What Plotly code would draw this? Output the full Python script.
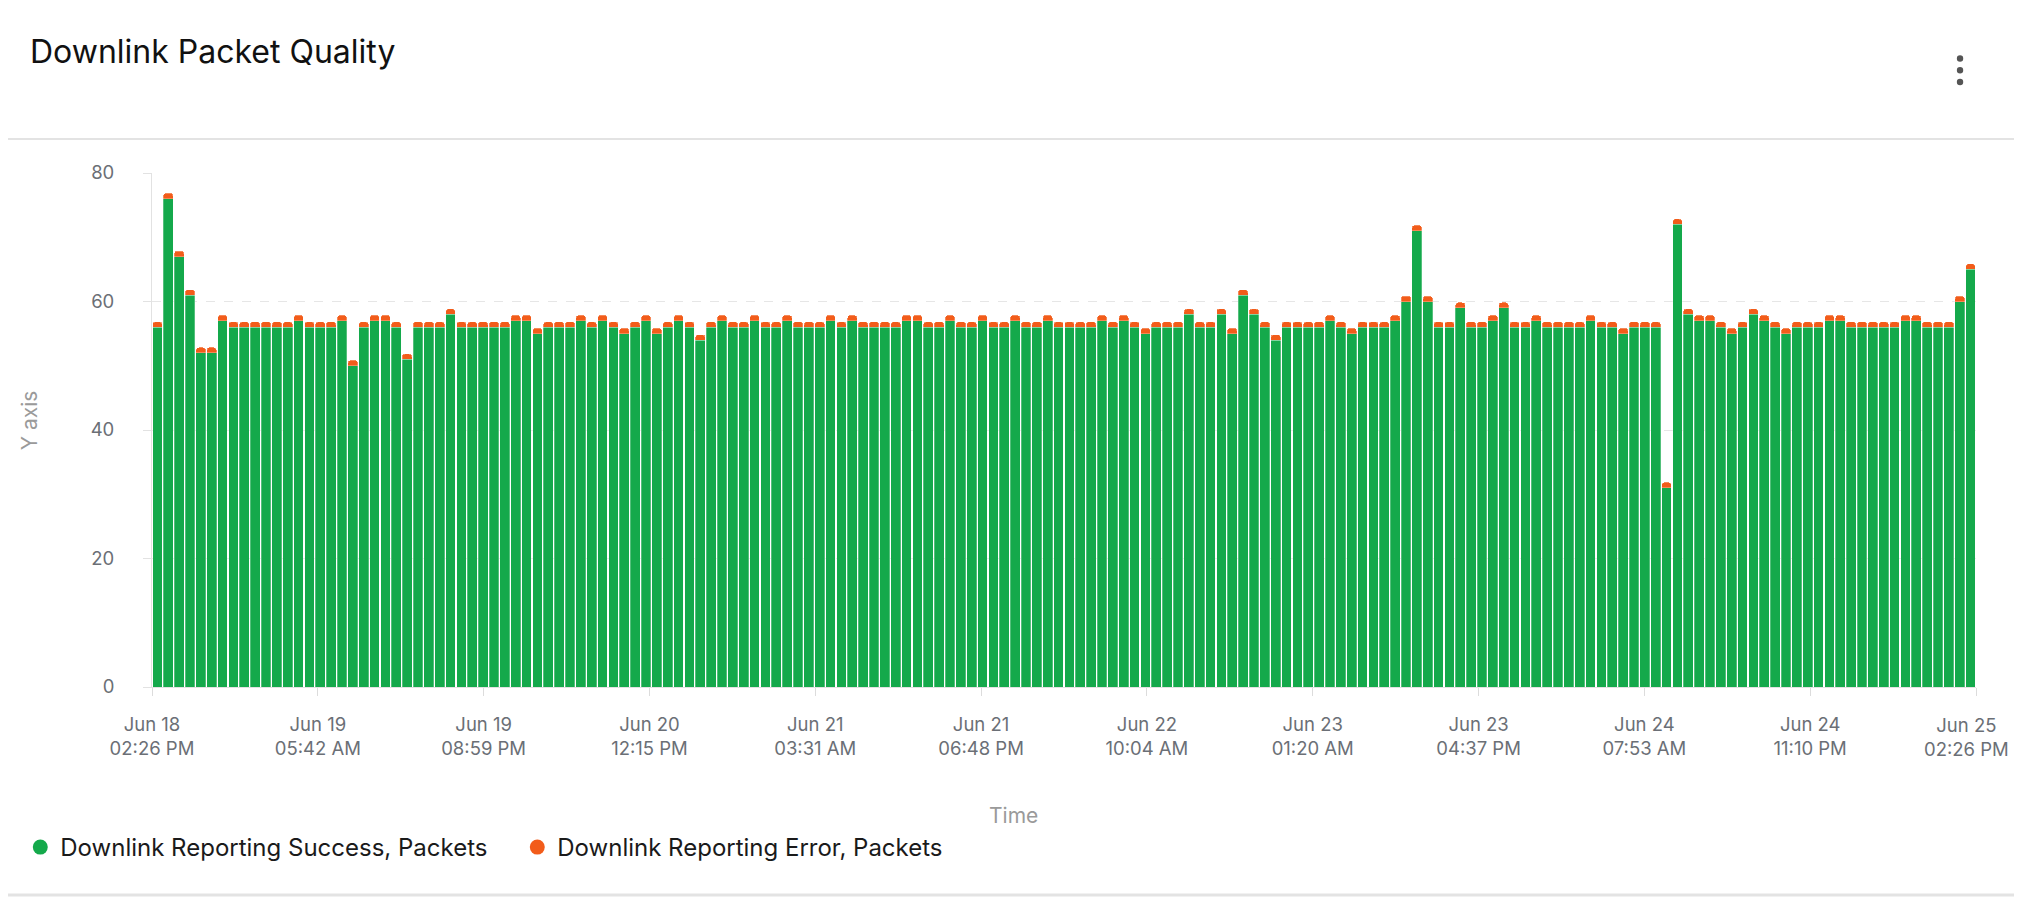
import pandas as pd
import plotly.graph_objects as go

# hourly buckets, Jun 18 14:26 -> Jun 25 14:26
START = "2024-06-18 14:26:25"
END = "2024-06-25 14:26:25"

success_packets = [
    56, 76, 67, 61, 52, 52, 57, 56, 56, 56, 56, 56, 56, 57, 56, 56, 56, 57, 50, 56, 57, 57, 56, 51,
    56, 56, 56, 58, 56, 56, 56, 56, 56, 57, 57, 55, 56, 56, 56, 57, 56, 57, 56, 55, 56, 57, 55, 56,
    57, 56, 54, 56, 57, 56, 56, 57, 56, 56, 57, 56, 56, 56, 57, 56, 57, 56, 56, 56, 56, 57, 57, 56,
    56, 57, 56, 56, 57, 56, 56, 57, 56, 56, 57, 56, 56, 56, 56, 57, 56, 57, 56, 55, 56, 56, 56, 58,
    56, 56, 58, 55, 61, 58, 56, 54, 56, 56, 56, 56, 57, 56, 55, 56, 56, 56, 57, 60, 71, 60, 56, 56,
    59, 56, 56, 57, 59, 56, 56, 57, 56, 56, 56, 56, 57, 56, 56, 55, 56, 56, 56, 31, 72, 58, 57, 57,
    56, 55, 56, 58, 57, 56, 55, 56, 56, 56, 57, 57, 56, 56, 56, 56, 56, 57, 57, 56, 56, 56, 60, 65,
]
error_packets = [
    0.85, 0.85, 0.85, 0.85, 0.85, 0.85, 0.85, 0.85, 0.85, 0.85, 0.85, 0.85, 0.85, 0.85, 0.85, 0.85, 0.85, 0.85, 0.85, 0.85, 0.85, 0.85, 0.85, 0.85,
    0.85, 0.85, 0.85, 0.85, 0.85, 0.85, 0.85, 0.85, 0.85, 0.85, 0.85, 0.85, 0.85, 0.85, 0.85, 0.85, 0.85, 0.85, 0.85, 0.85, 0.85, 0.85, 0.85, 0.85,
    0.85, 0.85, 0.85, 0.85, 0.85, 0.85, 0.85, 0.85, 0.85, 0.85, 0.85, 0.85, 0.85, 0.85, 0.85, 0.85, 0.85, 0.85, 0.85, 0.85, 0.85, 0.85, 0.85, 0.85,
    0.85, 0.85, 0.85, 0.85, 0.85, 0.85, 0.85, 0.85, 0.85, 0.85, 0.85, 0.85, 0.85, 0.85, 0.85, 0.85, 0.85, 0.85, 0.85, 0.85, 0.85, 0.85, 0.85, 0.85,
    0.85, 0.85, 0.85, 0.85, 0.85, 0.85, 0.85, 0.85, 0.85, 0.85, 0.85, 0.85, 0.85, 0.85, 0.85, 0.85, 0.85, 0.85, 0.85, 0.85, 0.85, 0.85, 0.85, 0.85,
    0.85, 0.85, 0.85, 0.85, 0.85, 0.85, 0.85, 0.85, 0.85, 0.85, 0.85, 0.85, 0.85, 0.85, 0.85, 0.85, 0.85, 0.85, 0.85, 0.85, 0.85, 0.85, 0.85, 0.85,
    0.85, 0.85, 0.85, 0.85, 0.85, 0.85, 0.85, 0.85, 0.85, 0.85, 0.85, 0.85, 0.85, 0.85, 0.85, 0.85, 0.85, 0.85, 0.85, 0.85, 0.85, 0.85, 0.85, 0.85,
]
tick_labels = [
    "Jun 18<br>02:26 PM", "Jun 19<br>05:42 AM", "Jun 19<br>08:59 PM", "Jun 20<br>12:15 PM",
    "Jun 21<br>03:31 AM", "Jun 21<br>06:48 PM", "Jun 22<br>10:04 AM", "Jun 23<br>01:20 AM",
    "Jun 23<br>04:37 PM", "Jun 24<br>07:53 AM", "Jun 24<br>11:10 PM", "Jun 25<br>02:26 PM",
]

GREEN = "#14a94b"
ORANGE = "#f25c1a"
FONT = "Inter"
TICK_GREY = "#6b6f76"

# page has an 8px body margin, so the figure is laid out in page coords minus 8
OFF = 8
W, H = 2022 - 2 * OFF, 898 - OFF
ML, MT = 148 - OFF, 173 - OFF
MR = W - (1976 - OFF)
MB = H - (687 - OFF)
PW, PH = W - ML - MR, H - MT - MB


def px(x):
    return (x - OFF - ML) / PW


def py(y):
    return (H - MB - (y - OFF)) / PH


start = pd.Timestamp(START)
end = pd.Timestamp(END)
# bar centred in the middle of each hour bucket
times = pd.date_range(start + pd.Timedelta(minutes=30), periods=len(success_packets), freq="h")
tickvals = pd.date_range(start, end, periods=len(tick_labels))
# last label is pulled in from the right edge (drawn as annotation below)
ticktext = tick_labels[:-1] + [""]

bar_line = dict(color="rgba(255,255,255,0.45)", width=0.6)
fig = go.Figure()
fig.add_bar(x=times, y=success_packets, name="Downlink Reporting Success, Packets",
            marker=dict(color=GREEN, line=bar_line), showlegend=False)
fig.add_bar(x=times, y=error_packets, name="Downlink Reporting Error, Packets",
            marker=dict(color=ORANGE, line=bar_line), showlegend=False)
# legend entries with round markers
fig.add_scatter(x=[None], y=[None], mode="markers", name="Downlink Reporting Success, Packets",
                marker=dict(color=GREEN, size=15))
fig.add_scatter(x=[None], y=[None], mode="markers", name="Downlink Reporting Error, Packets",
                marker=dict(color=ORANGE, size=15))

fig.update_layout(
    width=W, height=H,
    margin=dict(l=ML, r=MR, t=MT, b=MB),
    paper_bgcolor="white", plot_bgcolor="white",
    font=dict(family=FONT, color=TICK_GREY, size=18.5),
    barmode="stack", bargap=0.1, barcornerradius=3,
    title=dict(text="Downlink Packet Quality", xref="container", yref="container",
               x=(30 - OFF) / W, y=1 - (52 - OFF) / H, xanchor="left", yanchor="middle",
               font=dict(family=FONT, size=32, color="#111111")),
    legend=dict(orientation="h", traceorder="normal", x=px(16), y=py(825),
                xanchor="left", yanchor="top",
                font=dict(family=FONT, size=24, color="#1a1a1a"), entrywidth=452),
    xaxis=dict(type="date", range=[start, end], tickvals=tickvals, ticktext=ticktext,
               showgrid=False, showline=True, linecolor="#e2e2e2", linewidth=1,
               ticks="outside", ticklen=8, tickcolor="#dcdcdc",
               ticklabelstandoff=13, tickfont=dict(size=18.5, color=TICK_GREY)),
    yaxis=dict(range=[0, 80], dtick=20, showgrid=True, gridcolor="#e6e6e6", griddash="dash",
               zeroline=False, showline=True, linecolor="#e2e2e2",
               ticks="outside", ticklen=8, tickcolor="#e2e2e2",
               ticklabelstandoff=25, tickfont=dict(size=18.5, color=TICK_GREY)),
    annotations=[
        dict(text=tick_labels[-1], xref="paper", yref="paper", x=px(2011), y=py(737),
             xanchor="right", yanchor="middle", align="center",
             showarrow=False, font=dict(size=18.5, color=TICK_GREY)),
        dict(text="Time", xref="paper", yref="paper", x=px(1011), y=py(815),
             xanchor="center", yanchor="middle",
             showarrow=False, font=dict(size=21, color="#9a9a9a")),
        dict(text="Y axis", xref="paper", yref="paper", x=px(25), y=py(420), textangle=-90,
             xanchor="center", yanchor="middle",
             showarrow=False, font=dict(size=21, color="#9a9a9a")),
    ],
    shapes=[
        # header divider and bottom card edge
        dict(type="line", xref="paper", yref="paper", x0=px(0), x1=px(2022), y0=py(139), y1=py(139),
             line=dict(color="#e3e3e3", width=2)),
        dict(type="line", xref="paper", yref="paper", x0=px(0), x1=px(2022), y0=py(895), y1=py(895),
             line=dict(color="#e3e3e3", width=3)),
    ],
)

# kebab menu dots
for dot_y in (58.5, 70.3, 82):
    fig.add_shape(type="circle", xref="paper", yref="paper",
                  x0=px(1956.8), x1=px(1963.2), y0=py(dot_y - 3.2), y1=py(dot_y + 3.2),
                  fillcolor="#555555", line=dict(width=0))

fig.write_html("out.html")
